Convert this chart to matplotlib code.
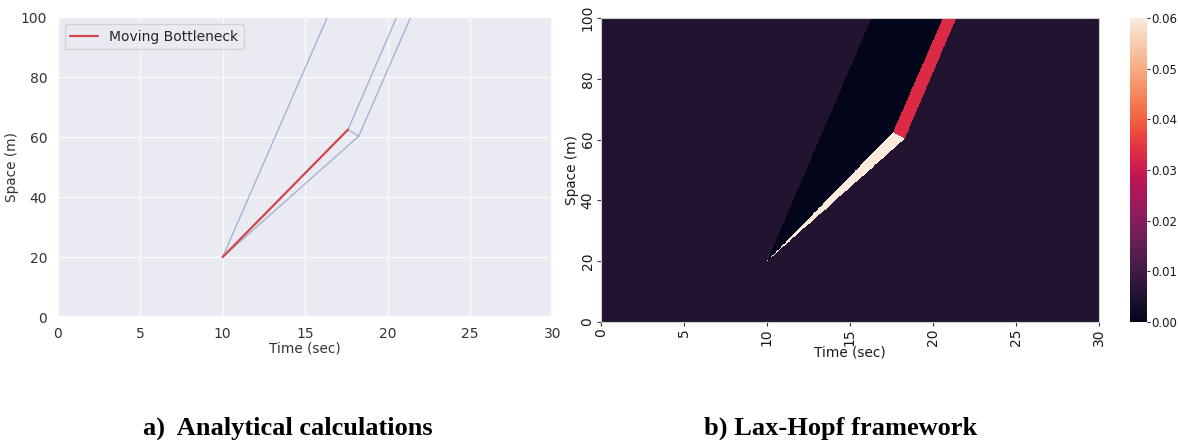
import numpy as np
import matplotlib
matplotlib.use("Agg")
import matplotlib.pyplot as plt
import seaborn as sns
from matplotlib.path import Path

# ---- data: analytical (left panel) ----
bottleneck_t = [10.0, 17.6]
bottleneck_x = [20.0, 62.5]
wave1_t = [10.0, 16.35]
wave1_x = [20.0, 100.0]
wave2_t = [10.0, 18.25, 21.4]
wave2_x = [20.0, 60.3, 100.0]
wave3_t = [17.6, 18.25]
wave3_x = [62.5, 60.3]
wave4_t = [17.6, 20.55]
wave4_x = [62.5, 100.0]

# ---- data: Lax-Hopf density regions (right panel) ----
background_density = 0.0055
black_region_t = [10.0, 16.3, 20.6, 17.6]
black_region_x = [20.0, 100.0, 100.0, 62.5]
black_density = 0.0
cream_region_t = [10.0, 17.6, 18.3]
cream_region_x = [20.0, 62.5, 60.3]
cream_density = 0.06
red_region_t = [17.6, 20.6, 21.4, 18.3]
red_region_x = [62.5, 100.0, 100.0, 60.3]
red_density = 0.033

x_ticks = [0, 5, 10, 15, 20, 25, 30]
y_ticks = [0, 20, 40, 60, 80, 100]
cbar_ticks = [0.00, 0.01, 0.02, 0.03, 0.04, 0.05, 0.06]

sns.set_theme(style="darkgrid")
plt.rcParams['font.family'] = ['DejaVu Sans']

fig = plt.figure(figsize=(11.78, 4.4), dpi=100)

# ---------- left panel ----------
ax1 = fig.add_axes([0.049, 0.2795, 0.420, 0.6815])
blue = "#4c72b0"
for tt, xx in [(wave1_t, wave1_x), (wave2_t, wave2_x), (wave3_t, wave3_x), (wave4_t, wave4_x)]:
    ax1.plot(tt, xx, color=blue, alpha=0.45, lw=1.0)
ax1.plot(bottleneck_t, bottleneck_x, color="#d0474c", lw=1.6, label="Moving Bottleneck")
ax1.set_xlim(0, 30)
ax1.set_ylim(0, 100)
ax1.set_xticks(x_ticks)
ax1.set_yticks(y_ticks)
ax1.grid(True, color="white", lw=0.9, alpha=0.8)
ax1.tick_params(labelsize=10, pad=1.5, colors="0.2")
ax1.set_xlabel("Time (sec)", fontsize=9.8, labelpad=0, color="0.2")
ax1.set_ylabel("Space (m)", fontsize=9.8, labelpad=1.5, color="0.2")
ax1.legend(loc="upper left", fontsize=10, frameon=True)

# ---------- right panel ----------
ax2 = fig.add_axes([0.510, 0.268, 0.423, 0.691])
ax2.set_facecolor("white")
nt, nx = 900, 600
tg = np.linspace(0, 30, nt + 1)
xg = np.linspace(0, 100, nx + 1)
tc = 0.5 * (tg[:-1] + tg[1:])
xc = 0.5 * (xg[:-1] + xg[1:])
TT, XX = np.meshgrid(tc, xc)
pts = np.column_stack([TT.ravel(), XX.ravel()])
dens = np.full(TT.size, background_density)
for rt, rx, val in [(black_region_t, black_region_x, black_density),
                    (cream_region_t, cream_region_x, cream_density),
                    (red_region_t, red_region_x, red_density)]:
    inside = Path(np.column_stack([rt, rx])).contains_points(pts)
    dens[inside] = val
dens = dens.reshape(TT.shape)
cmap = sns.color_palette("rocket", as_cmap=True)
mesh = ax2.pcolormesh(tg, xg, dens, cmap=cmap, vmin=0, vmax=0.06, shading="flat", rasterized=True)
ax2.set_xlim(0, 30)
ax2.set_ylim(0, 100)
ax2.grid(False)
for s in ax2.spines.values():
    s.set_visible(True)
    s.set_color("#cccccc")
    s.set_linewidth(0.8)
ax2.set_xticks(x_ticks)
ax2.set_yticks(y_ticks)
ax2.set_xticklabels([str(v) for v in x_ticks], rotation=90)
ax2.set_yticklabels([str(v) for v in y_ticks], rotation=90, va="center")
ax2.tick_params(labelsize=10, bottom=True, left=True, length=3, width=0.8, color="0.2", colors="0.1", pad=1.5)
ax2.set_xlabel("Time (sec)", fontsize=9.8, labelpad=0, color="0.1")
ax2.set_ylabel("Space (m)", fontsize=9.8, labelpad=1, color="0.1")

cax = fig.add_axes([0.959, 0.268, 0.0145, 0.691])
cb = fig.colorbar(mesh, cax=cax, ticks=cbar_ticks)
cb.outline.set_visible(False)
cax.set_yticklabels([f"{v:.2f}" for v in cbar_ticks])
cax.tick_params(labelsize=8.5, length=2.5, width=0.8, color="0.2", colors="0.1", pad=1)

# ---------- captions ----------
cap_font = dict(family="Liberation Serif", fontweight="bold", fontsize=19, ha="center", va="center", color="black")
fig.text(288 / 1178, 1 - 428 / 440, "a)  Analytical calculations", **cap_font)
fig.text(841 / 1178, 1 - 428 / 440, "b) Lax-Hopf framework", **cap_font)

fig.savefig("out.png", dpi=100, facecolor="white")
